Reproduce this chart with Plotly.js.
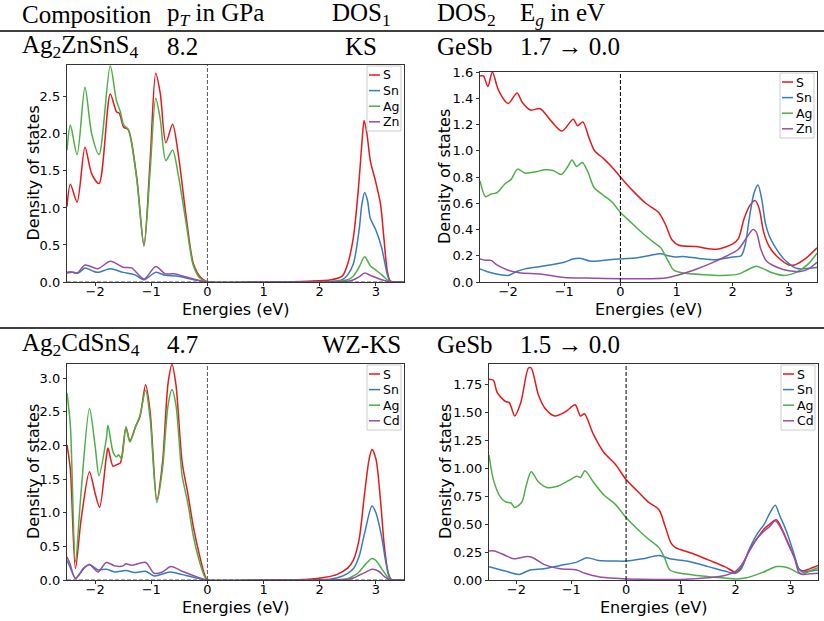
<!DOCTYPE html>
<html><head><meta charset="utf-8">
<script src="https://cdn.plot.ly/plotly-3.0.1.min.js"></script>
<style>body{margin:0;padding:0;background:#fff}#chart{width:824px;height:621px}</style>
</head><body><div id="chart"></div>
<script>
// ---------- Data (energies in eV, DOS values) ----------
// Panel 1: Ag2ZnSnS4, KS
const p1S_x  = [-2.5,-2.44,-2.32,-2.18,-2.06,-1.93,-1.73,-1.62,-1.57,-1.49,-1.41,-1.26,-1.13,-1.02,-0.92,-0.84,-0.74,-0.62,-0.52,-0.37,-0.25,-0.13,0,1.0,1.8,2.2,2.4,2.5,2.6,2.69,2.75,2.79,2.84,2.9,2.99,3.08,3.14,3.2,3.25,3.3,3.5];
const p1S_y  = [1.02,1.32,1.08,1.82,1.46,1.33,2.54,2.30,2.28,2.09,2.06,1.42,0.50,1.64,2.82,2.55,1.88,2.13,1.73,0.83,0.25,0.07,0,0,0.01,0.03,0.08,0.25,0.61,1.28,1.87,2.18,2.0,1.64,1.37,1.06,0.61,0.16,0.02,0,0];
const p1Sn_x = [-2.5,-2.4,-2.3,-2.18,-2.05,-1.95,-1.73,-1.5,-1.3,-1.13,-0.92,-0.75,-0.55,-0.3,0,1.0,2.0,2.4,2.5,2.6,2.7,2.75,2.8,2.85,2.9,3.0,3.1,3.2,3.25,3.3,3.5];
const p1Sn_y = [0.12,0.13,0.12,0.19,0.15,0.13,0.18,0.13,0.10,0.03,0.13,0.09,0.08,0.04,0,0,0,0.03,0.1,0.25,0.7,1.05,1.21,1.1,0.86,0.70,0.47,0.11,0.01,0,0];
const p1Ag_x = [-2.5,-2.44,-2.32,-2.18,-2.06,-1.93,-1.73,-1.62,-1.55,-1.49,-1.41,-1.26,-1.13,-1.02,-0.92,-0.84,-0.74,-0.62,-0.52,-0.37,-0.25,-0.13,0,1.0,2.0,2.5,2.6,2.7,2.8,2.9,3.0,3.1,3.2,3.25,3.3,3.5];
const p1Ag_y = [1.78,2.12,1.72,2.63,2.0,1.72,2.92,2.45,2.3,2.12,2.06,1.40,0.48,1.50,2.48,2.2,1.64,1.78,1.45,0.75,0.22,0.05,0,0,0,0.03,0.08,0.2,0.34,0.22,0.16,0.1,0.03,0,0,0];
const p1Zn_x = [-2.5,-2.44,-2.32,-2.18,-1.95,-1.73,-1.5,-1.35,-1.13,-0.92,-0.75,-0.6,-0.3,0,1.0,2.0,2.5,2.6,2.7,2.8,2.9,3.0,3.1,3.2,3.3,3.5];
const p1Zn_y = [0.13,0.14,0.12,0.23,0.18,0.28,0.20,0.19,0.04,0.21,0.11,0.11,0.05,0,0,0,0.01,0.03,0.07,0.12,0.09,0.06,0.03,0.01,0,0];

// Panel 2: Ag2ZnSnS4, GeSb
const p2S_x  = [-2.5,-2.44,-2.36,-2.28,-2.17,-2.0,-1.84,-1.75,-1.6,-1.43,-1.22,-1.04,-0.84,-0.76,-0.67,-0.56,-0.46,-0.3,-0.16,0,0.21,0.45,0.68,0.8,0.92,1.04,1.34,1.72,2.0,2.1,2.2,2.3,2.4,2.47,2.55,2.65,2.8,3.0,3.1,3.3,3.5];
const p2S_y  = [1.57,1.57,1.49,1.60,1.46,1.36,1.44,1.37,1.31,1.32,1.22,1.15,1.24,1.19,1.22,1.10,1.0,0.94,0.88,0.80,0.70,0.60,0.53,0.44,0.32,0.28,0.27,0.25,0.29,0.33,0.48,0.58,0.62,0.56,0.38,0.27,0.19,0.13,0.13,0.18,0.26];
const p2Sn_x = [-2.5,-2.3,-2.0,-1.85,-1.7,-1.4,-1.0,-0.85,-0.7,-0.55,-0.4,-0.2,0,0.3,0.5,0.72,0.85,1.0,1.1,1.4,1.7,2.0,2.15,2.22,2.3,2.38,2.45,2.52,2.58,2.65,2.75,2.9,3.0,3.1,3.2,3.5];
const p2Sn_y = [0.10,0.07,0.05,0.08,0.10,0.12,0.15,0.175,0.18,0.16,0.16,0.17,0.175,0.185,0.20,0.215,0.20,0.19,0.195,0.18,0.17,0.19,0.20,0.28,0.50,0.68,0.74,0.62,0.45,0.35,0.27,0.18,0.14,0.11,0.10,0.11];
const p2Ag_x = [-2.5,-2.4,-2.3,-2.2,-2.05,-1.95,-1.83,-1.7,-1.5,-1.35,-1.2,-1.05,-0.95,-0.86,-0.78,-0.68,-0.58,-0.47,-0.3,-0.15,0,0.2,0.4,0.6,0.72,0.85,0.95,1.1,1.5,1.8,2.1,2.25,2.42,2.55,2.7,2.9,3.05,3.2,3.35,3.5];
const p2Ag_y = [0.77,0.65,0.67,0.68,0.75,0.78,0.86,0.83,0.84,0.855,0.85,0.82,0.87,0.93,0.88,0.91,0.84,0.72,0.66,0.61,0.53,0.45,0.37,0.30,0.26,0.16,0.09,0.07,0.055,0.05,0.06,0.09,0.12,0.10,0.07,0.05,0.06,0.09,0.14,0.22];
const p2Zn_x = [-2.5,-2.4,-2.3,-2.2,-2.0,-1.8,-1.4,-1.0,-0.6,0,0.5,0.8,1.0,1.3,1.6,1.9,2.1,2.25,2.36,2.42,2.5,2.6,2.8,3.0,3.2,3.35,3.5];
const p2Zn_y = [0.175,0.165,0.165,0.13,0.09,0.07,0.06,0.035,0.03,0.025,0.025,0.03,0.05,0.09,0.14,0.2,0.25,0.34,0.40,0.38,0.25,0.16,0.11,0.085,0.08,0.1,0.15];

// Panel 3: Ag2CdSnS4, WZ-KS
const p3S_x  = [-2.5,-2.44,-2.35,-2.25,-2.1,-2.0,-1.92,-1.8,-1.77,-1.68,-1.6,-1.55,-1.45,-1.38,-1.28,-1.2,-1.1,-1.02,-0.9,-0.8,-0.7,-0.63,-0.56,-0.45,-0.35,-0.25,-0.15,-0.05,0,1.0,1.8,2.1,2.3,2.5,2.6,2.7,2.8,2.88,2.93,3.0,3.08,3.15,3.22,3.27,3.3,3.5];
const p3S_y  = [2.01,1.64,0.17,0.89,1.61,1.29,1.08,1.83,1.96,1.69,1.72,1.74,2.26,2.07,2.28,2.43,2.90,2.5,1.19,1.74,2.93,3.2,2.9,1.75,1.29,0.79,0.4,0.08,0,0,0.01,0.04,0.08,0.18,0.3,0.6,1.3,1.8,1.94,1.8,1.2,0.5,0.1,0.01,0,0];
const p3Sn_x = [-2.5,-2.45,-2.35,-2.2,-2.1,-1.95,-1.8,-1.65,-1.45,-1.3,-1.1,-0.95,-0.8,-0.65,-0.45,-0.2,0,1.0,2.0,2.3,2.5,2.6,2.7,2.8,2.93,3.0,3.1,3.18,3.25,3.3,3.5];
const p3Sn_y = [0.29,0.2,0.03,0.18,0.23,0.15,0.16,0.12,0.14,0.11,0.13,0.06,0.09,0.12,0.08,0.03,0,0,0,0.03,0.1,0.17,0.35,0.7,1.1,1.0,0.65,0.25,0.02,0,0];
const p3Ag_x = [-2.5,-2.44,-2.35,-2.25,-2.1,-2.0,-1.93,-1.8,-1.77,-1.68,-1.62,-1.58,-1.53,-1.45,-1.38,-1.28,-1.2,-1.1,-1.02,-0.9,-0.8,-0.7,-0.63,-0.56,-0.45,-0.35,-0.25,-0.15,-0.05,0,1.0,2.0,2.5,2.6,2.7,2.8,2.93,3.0,3.1,3.2,3.25,3.3,3.5];
const p3Ag_y = [2.78,2.3,0.27,1.3,2.55,2.0,1.55,2.1,2.3,1.9,1.83,1.86,1.80,2.28,2.05,2.27,2.45,2.82,2.4,1.15,1.65,2.6,2.83,2.6,1.55,1.15,0.65,0.3,0.05,0,0,0,0.02,0.06,0.12,0.22,0.32,0.29,0.17,0.05,0,0,0];
const p3Cd_x = [-2.5,-2.45,-2.35,-2.2,-2.1,-1.95,-1.8,-1.65,-1.5,-1.45,-1.35,-1.1,-0.95,-0.8,-0.65,-0.45,-0.2,0,1.0,2.0,2.5,2.6,2.7,2.8,2.93,3.05,3.15,3.25,3.3,3.5];
const p3Cd_y = [0.34,0.25,0.02,0.17,0.23,0.12,0.26,0.21,0.21,0.24,0.22,0.26,0.1,0.12,0.2,0.13,0.05,0,0,0,0.01,0.03,0.07,0.11,0.16,0.13,0.05,0,0,0];

// Panel 4: Ag2CdSnS4, GeSb
const p4S_x  = [-2.5,-2.42,-2.35,-2.2,-2.13,-2.03,-1.92,-1.78,-1.73,-1.6,-1.48,-1.3,-1.1,-0.93,-0.83,-0.76,-0.6,-0.4,-0.2,0,0.2,0.4,0.6,0.7,0.82,0.9,1.2,1.5,1.8,2.0,2.1,2.25,2.4,2.52,2.62,2.74,2.85,2.93,3.07,3.15,3.23,3.35,3.5];
const p4S_y  = [1.80,1.79,1.68,1.60,1.59,1.47,1.59,1.90,1.90,1.66,1.54,1.47,1.51,1.57,1.47,1.49,1.31,1.14,1.04,0.90,0.80,0.70,0.63,0.5,0.33,0.29,0.24,0.18,0.12,0.07,0.11,0.27,0.38,0.46,0.5,0.54,0.45,0.36,0.2,0.1,0.08,0.1,0.13];
const p4Sn_x = [-2.5,-2.2,-1.95,-1.75,-1.5,-1.2,-0.9,-0.72,-0.5,-0.2,0,0.3,0.6,0.8,1.1,1.5,1.8,2.0,2.1,2.25,2.4,2.52,2.6,2.72,2.8,2.93,3.07,3.15,3.23,3.35,3.5];
const p4Sn_y = [0.12,0.08,0.05,0.09,0.1,0.13,0.16,0.2,0.175,0.17,0.17,0.19,0.22,0.19,0.17,0.12,0.08,0.06,0.1,0.28,0.42,0.5,0.58,0.67,0.58,0.43,0.22,0.1,0.07,0.08,0.09];
const p4Ag_x = [-2.5,-2.42,-2.3,-2.2,-2.1,-2.03,-1.9,-1.82,-1.73,-1.6,-1.45,-1.25,-1.05,-0.9,-0.83,-0.75,-0.6,-0.4,-0.2,0,0.2,0.4,0.6,0.7,0.8,1.0,1.3,1.6,2.0,2.2,2.5,2.75,2.95,3.15,3.22,3.35,3.5];
const p4Ag_y = [1.12,0.9,0.75,0.70,0.69,0.65,0.70,0.85,0.97,0.88,0.83,0.84,0.89,0.93,0.92,0.98,0.88,0.76,0.68,0.56,0.46,0.37,0.29,0.2,0.09,0.06,0.04,0.025,0.01,0.02,0.07,0.12,0.11,0.06,0.05,0.08,0.11];
const p4Cd_x = [-2.5,-2.4,-2.2,-2.05,-1.8,-1.7,-1.5,-1.2,-0.9,-0.75,-0.5,-0.2,0,0.5,1.0,1.5,1.8,2.0,2.1,2.25,2.4,2.52,2.62,2.72,2.85,2.93,3.07,3.15,3.23,3.35,3.5];
const p4Cd_y = [0.26,0.26,0.22,0.19,0.21,0.2,0.14,0.1,0.09,0.06,0.03,0.015,0.01,0.005,0.005,0.02,0.04,0.08,0.13,0.26,0.38,0.44,0.48,0.53,0.44,0.35,0.2,0.07,0.05,0.055,0.06];

// Labels
const speciesNames = ['S','Sn','Ag'];
const cation = ['Zn','Cd'];
const headers = ['Composition','p<sub><i>T</i></sub> in GPa','DOS<sub>1</sub>','DOS<sub>2</sub>','E<sub><i>g</i></sub> in eV'];
const row1 = ['Ag<sub>2</sub>ZnSnS<sub>4</sub>','8.2','KS','GeSb','1.7 \u2192 0.0'];
const row2 = ['Ag<sub>2</sub>CdSnS<sub>4</sub>','4.7','WZ-KS','GeSb','1.5 \u2192 0.0'];
const xTitle = 'Energies (eV)';
const yTitle = 'Density of states';
const xTicks = [-2,-1,0,1,2,3];

// ---------- Styling ----------
const COLORS = ['#e41a1c','#377eb8','#4daf4a','#984ea3'];
const W = 824, H = 621;
const px = v => v / W, py = v => 1 - v / H;

// pixel boxes of the four plot areas: [left, right, top, bottom]; yt = x of y-title centre
const panels = [
  {data:[[p1S_x,p1S_y],[p1Sn_x,p1Sn_y],[p1Ag_x,p1Ag_y],[p1Zn_x,p1Zn_y]], names:[...speciesNames,cation[0]],
   box:[67,404,65,282], yt:33, yr:[0,2.93], dt:0.5, fmt:'.1f', dash:'#555', gap:true},
  {data:[[p2S_x,p2S_y],[p2Sn_x,p2Sn_y],[p2Ag_x,p2Ag_y],[p2Zn_x,p2Zn_y]], names:[...speciesNames,cation[0]],
   box:[480,817,72,282], yt:445, yr:[0,1.6], dt:0.2, fmt:'.1f', dash:'#000', gap:false},
  {data:[[p3S_x,p3S_y],[p3Sn_x,p3Sn_y],[p3Ag_x,p3Ag_y],[p3Cd_x,p3Cd_y]], names:[...speciesNames,cation[1]],
   box:[67,404,364,580], yt:33, yr:[0,3.21], dt:0.5, fmt:'.1f', dash:'#555', gap:true},
  {data:[[p4S_x,p4S_y],[p4Sn_x,p4Sn_y],[p4Ag_x,p4Ag_y],[p4Cd_x,p4Cd_y]], names:[...speciesNames,cation[1]],
   box:[489,818,364,580], yt:445, yr:[0,1.936], dt:0.25, fmt:'.2f', dash:'#000', gap:false},
];

const tickFont = {family:'DejaVu Sans', size:13, color:'#000'};
const titleFont = {family:'DejaVu Sans', size:16, color:'#000'};
const legFont = {family:'DejaVu Sans', size:12.5, color:'#000'};
const traces = [];
const layout = {
  width:W, height:H, margin:{l:0,r:0,t:0,b:0},
  paper_bgcolor:'#fff', plot_bgcolor:'#fff', showlegend:false,
  shapes:[], annotations:[]
};

panels.forEach((p, i) => {
  const n = i + 1;
  const xa = n === 1 ? 'x' : 'x' + n, ya = n === 1 ? 'y' : 'y' + n;
  const [L, R, T, B] = p.box;
  p.data.forEach((d, k) => {
    traces.push({x:d[0], y:d[1], type:'scatter', mode:'lines', name:p.names[k],
      xaxis:xa, yaxis:ya,
      line:{color:COLORS[k], width:1.5, shape:'spline', smoothing:0.8}});
  });
  const axCommon = {showline:true, mirror:true, linecolor:'#333', linewidth:1.2,
    ticks:'outside', ticklen:3, tickwidth:1, tickcolor:'#333', showgrid:false, zeroline:false,
    tickfont:tickFont, automargin:false};
  layout['xaxis' + (n === 1 ? '' : n)] = Object.assign({}, axCommon, {
    domain:[px(L), px(R)], range:[-2.5,3.5], anchor:ya, tickvals:xTicks, ticklabelstandoff:-6});
  layout['yaxis' + (n === 1 ? '' : n)] = Object.assign({}, axCommon, {
    domain:[py(B), py(T)], range:p.yr, anchor:xa, dtick:p.dt, tick0:0, tickformat:p.fmt});
  // axis titles
  layout.annotations.push({text:xTitle, xref:'paper', yref:'paper', x:px((L + R) / 2), y:py(B + 27),
    xanchor:'center', yanchor:'middle', showarrow:false, font:titleFont, borderpad:0});
  layout.annotations.push({text:yTitle, xref:'paper', yref:'paper', x:px(p.yt), y:py((T + B) / 2),
    xanchor:'center', yanchor:'middle', textangle:-90, showarrow:false, font:titleFont, borderpad:0});
  // Fermi level / zero reference lines
  layout.shapes.push({type:'line', xref:xa, yref:ya + ' domain', x0:0, x1:0, y0:0, y1:1,
    line:{color:p.dash, width:1, dash:'4px,2px'}});
  if (p.gap) layout.shapes.push({type:'line', xref:xa + ' domain', yref:ya, x0:0, x1:1, y0:0, y1:0,
    line:{color:'#555', width:1, dash:'4px,2px'}});
  // legend (matplotlib-style compact box, upper right)
  layout.shapes.push({type:'rect', xref:'paper', yref:'paper',
    x0:px(R - 37), x1:px(R - 3), y0:py(T + 66), y1:py(T + 1),
    fillcolor:'rgba(255,255,255,0.85)', line:{color:'#cccccc', width:1}});
  p.names.forEach((nm, k) => {
    const yc = T + 10 + 15.6 * k;
    layout.shapes.push({type:'line', xref:'paper', yref:'paper',
      x0:px(R - 35), x1:px(R - 24), y0:py(yc), y1:py(yc), line:{color:COLORS[k], width:1.5}});
    layout.annotations.push({text:nm, xref:'paper', yref:'paper', x:px(R - 22), y:py(yc),
      xanchor:'left', yanchor:'middle', showarrow:false, font:legFont, borderpad:0});
  });
});

// header rules
[31, 328].forEach(yv => layout.shapes.push({type:'line', xref:'paper', yref:'paper',
  x0:0, x1:1, y0:py(yv), y1:py(yv), line:{color:'#000', width:1.3}}));

// header table text; column 3 is centred, the others are left aligned
const serif = {family:'Liberation Serif', size:25, color:'#000'};
const colX = [20, 165, 361, 435, 518];
function addRow(items, yc) {
  items.forEach((t, j) => {
    layout.annotations.push({text:t, xref:'paper', yref:'paper', x:px(colX[j]), y:py(yc),
      xanchor:(j === 2 ? 'center' : 'left'), yanchor:'middle', showarrow:false, font:serif});
  });
}
addRow(headers, 15);
addRow(row1, 46);
addRow(row2, 344);

Plotly.newPlot('chart', traces, layout, {staticPlot:true});
</script></body></html>
